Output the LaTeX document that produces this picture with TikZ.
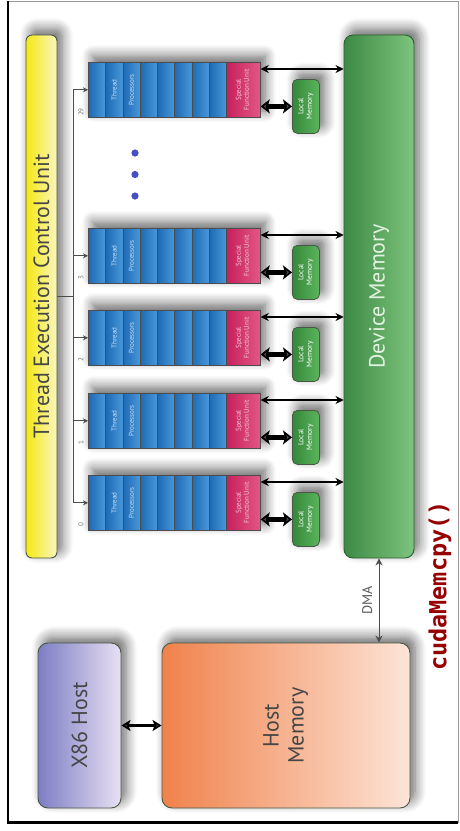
\documentclass[tikz,border=0pt]{standalone}
\usepackage{fontspec}
\setmainfont{PT Sans}
\newfontfamily\codefont{DejaVu Sans Mono}
\usepackage{graphicx}
\usetikzlibrary{arrows.meta,positioning,shadows.blur}

\definecolor{tpleft}{RGB}{30,105,180}
\definecolor{tpright}{RGB}{72,152,218}
\definecolor{tptext}{RGB}{205,226,245}
\definecolor{sfuleft}{RGB}{198,32,92}
\definecolor{sfuright}{RGB}{226,88,132}
\definecolor{sfutext}{RGB}{248,200,215}
\definecolor{lmleft}{RGB}{52,136,58}
\definecolor{lmright}{RGB}{92,180,92}
\definecolor{dmleft}{RGB}{60,138,68}
\definecolor{dmright}{RGB}{126,196,126}
\definecolor{dmline}{RGB}{40,95,48}
\definecolor{dmtext}{RGB}{228,242,226}
\definecolor{yelleft}{RGB}{245,232,20}
\definecolor{yelright}{RGB}{250,246,192}
\definecolor{hmleft}{RGB}{240,130,75}
\definecolor{hmright}{RGB}{253,228,215}
\definecolor{xleft}{RGB}{125,125,196}
\definecolor{xright}{RGB}{232,224,243}
\definecolor{boxline}{RGB}{72,88,70}
\definecolor{darktext}{RGB}{70,70,70}
\definecolor{cudared}{RGB}{150,0,0}
\definecolor{dotblue}{RGB}{70,80,196}

\begin{document}
\begin{tikzpicture}[x=1pt, y=-1pt, >=Stealth]
  \tikzset{
    soft/.style={blur shadow={shadow xshift=5pt, shadow yshift=6pt,
        shadow blur radius=11pt, shadow blur steps=8, shadow opacity=60}},
    box/.style={draw=boxline, line width=0.9pt, inner sep=0pt, soft},
    tp/.style={rectangle, draw=black!70, line width=0.7pt, left color=tpleft,
        right color=tpright, minimum width=17.25pt, minimum height=55pt,
        inner sep=0pt, anchor=north west, text=tptext,
        font=\fontsize{7}{8}\selectfont},
    sfu/.style={tp, left color=sfuleft, right color=sfuright,
        minimum width=34pt, text=sfutext},
    lmem/.style={rectangle, rounded corners=5pt, draw=boxline, line width=0.8pt,
        left color=lmleft, right color=lmright, minimum width=27pt,
        minimum height=54pt, inner sep=0pt, anchor=north west, text=white,
        font=\fontsize{7.5}{8.5}\selectfont, soft},
    idx/.style={text=black!55, font=\fontsize{7}{8}\selectfont, inner sep=0pt},
    feed/.style={->, draw=black!70, line width=0.8pt,
        >={Stealth[length=5pt,width=5pt]}},
    link/.style={<->, line width=1.4pt, >={Stealth[length=8pt,width=8pt,inset=2.5pt]}},
    fat/.style={<->, line width=4.5pt, >={Stealth[length=9pt,width=14pt,inset=2pt]}}
  }
  \useasboundingbox (0,0) rectangle (459,831);

  % frame
  \draw[black!40, line width=0.8pt] (8,1) -- (458,1) -- (458,822.5);
  \draw[black, line width=2.8pt] (8,1) -- (8,822.5) -- (458,822.5);

  % control unit and device memory
  \node[box, rounded corners=6pt, minimum width=31pt, minimum height=523pt,
        left color=yelleft, right color=yelright, text=darktext,
        font=\fontsize{22}{24}\selectfont] (tecu) at (41.5,296.5)
        {\rotatebox{90}{Thread Execution Control Unit}};
  \node[box, draw=dmline, rounded corners=9pt, minimum width=70pt,
        minimum height=523pt, left color=dmleft, right color=dmright,
        text=dmtext, font=\fontsize{22}{24}\selectfont]
        (devmem) at (379,296.5) {\rotatebox{90}{Device Memory}};

  % multiprocessors
  \foreach \n/\t in {0/475,1/393,2/310,3/228,29/62}{
    \path[soft] (88,\t) rectangle (260,\t+55);
    \foreach \j/\lab in {1/{},2/Thread,3/Processors,4/{},5/{},6/{},7/{},8/{}}
      \node[tp] (tp\n-\j) at ({88+(\j-1)*17.25},\t) {\rotatebox{90}{\lab}};
    \node[sfu] (sfu\n) at (226,\t)
      {\rotatebox{90}{\begin{tabular}{@{}c@{}}Special\\Function Unit\end{tabular}}};
    \node[lmem] (lm\n) at (292,\t+17)
      {\rotatebox{90}{\begin{tabular}{@{}c@{}}Local\\Memory\end{tabular}}};
    \node[idx] (id\n) at (81,\t+50) {\rotatebox{90}{\n}};
    \draw[link] ([yshift=-7pt]sfu\n.north east) -- ([yshift=-7pt]sfu\n.north east -| devmem.west);
    \draw[fat] (lm\n.west -| sfu\n.east) -- (lm\n.west);
  }
  \foreach \y in {153,174.5,196}
    \fill[dotblue] (135,\y) circle [radius=3.6pt];

  % bus from the control unit
  \coordinate (bus) at (73,296.5);
  \draw[draw=black!70, line width=0.8pt] (tecu.east) -- (bus);
  \draw[draw=black!70, line width=0.8pt] (bus |- tp29-1.west) -- (bus |- tp0-1.west);
  \foreach \n in {0,1,2,3,29}
    \draw[feed] (bus |- tp\n-1.west) -- (tp\n-1.west);

  % host side
  \node[box, rounded corners=10pt, minimum width=248pt, minimum height=165pt,
        left color=hmleft, right color=hmright, text=darktext, align=center,
        font=\fontsize{22}{25}\selectfont] (hostmem) at (286,725.5)
        {\rotatebox{90}{\begin{tabular}{@{}c@{}}Host\\Memory\end{tabular}}};
  \node[box, rounded corners=10pt, minimum width=83pt, minimum height=165pt,
        left color=xleft, right color=xright, text=darktext,
        font=\fontsize{22}{24}\selectfont] (x86) at (79.5,725.5)
        {\rotatebox{90}{X86 Host}};
  \draw[<->, line width=2.2pt, >={Stealth[length=9pt,width=11pt,inset=2pt]}]
    (x86.east) -- (hostmem.west);
  \draw[<->, draw=black!70, line width=1pt, >={Stealth[length=7pt,width=7pt]}]
    (devmem.south) -- node[left=3pt, text=black!65, font=\fontsize{14}{16}\selectfont]
    {\rotatebox{90}{DMA}} (devmem.south |- hostmem.north);

  \node[rotate=90, text=cudared, font=\codefont\bfseries\fontsize{23.5}{26}\selectfont]
    (cpy) at (440,586) {cudaMemcpy()};
\end{tikzpicture}
\end{document}
